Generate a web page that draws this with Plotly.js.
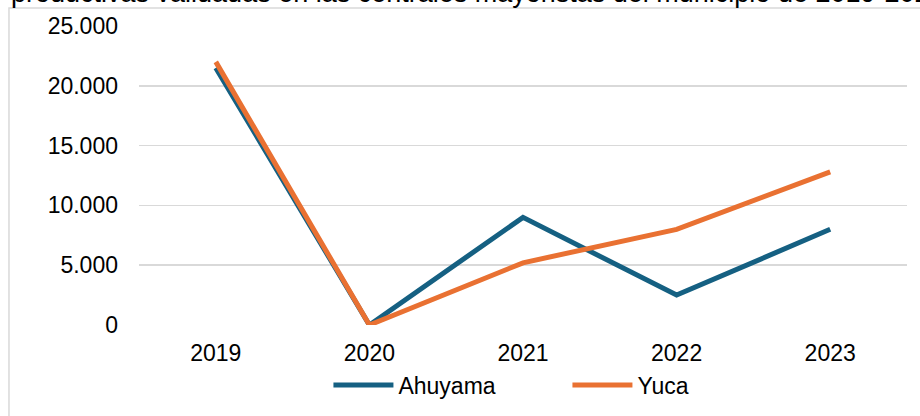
<!DOCTYPE html>
<html>
<head>
<meta charset="utf-8">
<script src="https://cdn.plot.ly/plotly-3.0.1.min.js"></script>
<style>
  html, body { margin: 0; padding: 0; background: #fff; }
  #chart { width: 920px; height: 416px; }
</style>
</head>
<body>
<div id="chart"></div>
<script>
// años de la serie
const years = ['2019', '2020', '2021', '2022', '2023'];
// toneladas validadas por producto
const ahuyama = [21500, 0, 9000, 2500, 8000];
const yuca = [22000, 0, 5200, 8000, 12800];
const seriesNames = ['Ahuyama', 'Yuca'];
const titleText = 'productivas validadas en las centrales mayoristas del municipio de 2019-2023';

const font = '"Liberation Sans", Arial, sans-serif';

const traces = [
  {
    type: 'scatter',
    mode: 'lines',
    x: years,
    y: ahuyama,
    name: seriesNames[0],
    line: { color: '#156082', width: 5 }
  },
  {
    type: 'scatter',
    mode: 'lines',
    x: years,
    y: yuca,
    name: seriesNames[1],
    line: { color: '#E97132', width: 5 }
  }
];

const layout = {
  width: 920,
  height: 416,
  margin: { l: 139, r: 13, t: 26, b: 91, pad: 0 },
  paper_bgcolor: '#fff',
  plot_bgcolor: '#fff',
  separators: ',.',
  font: { family: font, size: 23, color: '#000' },
  showlegend: true,
  legend: {
    orientation: 'h',
    xref: 'container',
    yref: 'container',
    x: 0.357,
    xanchor: 'left',
    y: 0.0745,
    yanchor: 'middle',
    itemwidth: 60,
    entrywidth: 164,
    font: { family: font, size: 23, color: '#000' },
    bgcolor: 'rgba(0,0,0,0)'
  },
  xaxis: {
    type: 'category',
    range: [-0.5, 4.5],
    showgrid: false,
    zeroline: false,
    showline: false,
    ticks: '',
    ticklabelstandoff: 12,
    tickfont: { family: font, size: 23, color: '#000' }
  },
  yaxis: {
    range: [0, 25000],
    dtick: 5000,
    tickformat: ',.0f',
    showgrid: true,
    gridcolor: '#d9d9d9',
    gridwidth: 1.5,
    zeroline: false,
    showline: false,
    ticks: '',
    ticklabelstandoff: 20,
    tickfont: { family: font, size: 23, color: '#000' }
  },
  shapes: [
    {
      type: 'rect',
      xref: 'paper', yref: 'paper',
      x0: -0.1693, x1: 1.2, y0: -0.6, y1: 1.0602,
      line: { color: '#d9d9d9', width: 1.5 },
      fillcolor: 'rgba(0,0,0,0)',
      layer: 'below'
    }
  ],
  annotations: [
    {
      text: titleText,
      xref: 'paper', yref: 'paper',
      x: -0.168, xanchor: 'left',
      y: 1.0569, yanchor: 'bottom',
      showarrow: false,
      borderpad: 0,
      font: { family: font, size: 27, color: '#000' }
    }
  ]
};

Plotly.newPlot('chart', traces, layout, { displayModeBar: false, staticPlot: true });
</script>
</body>
</html>
